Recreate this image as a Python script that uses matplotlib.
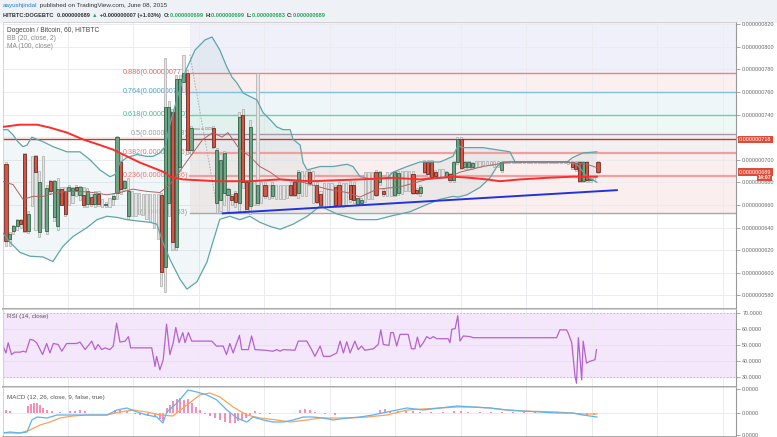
import numpy as np
import matplotlib.pyplot as plt
from matplotlib.patches import Rectangle

plt.rcParams['font.family'] = ['Liberation Sans', 'DejaVu Sans']

# hourly candles, price in 1e-9 BTC
opens = [696, 630, 637, 641, 647, 705, 637, 680, 703, 636,
         670, 637, 681, 649, 641, 674, 672, 672, 669, 676,
         669, 669, 661, 667, 661, 670, 661, 660, 661, 665,
         671, 698, 675, 650, 669, 669, 669, 669, 669, 669,
         669, 669, 669, 605, 662, 742, 623, 694, 769, 777,
         709, 728, 728, 728, 728, 728, 728, 662, 664, 671,
         669, 668, 671, 662, 740, 680, 659, 680, 662, 675,
         678, 672, 668, 672, 672, 672, 672, 678, 680, 671,
         680, 680, 689, 675, 678, 670, 668, 668, 668, 676,
         678, 668, 668, 678, 678, 661, 662, 675, 675, 675,
         689, 680, 672, 678, 678, 669, 671, 680, 680, 680,
         687, 673, 671, 698, 698, 698, 689, 689, 689, 686,
         687, 682, 698, 718, 694, 694, 694, 698, 698, 698,
         698, 698, 698, 698, 691, 698, 698, 698, 698, 698] + [698] * 10 + \
        [698, 698, 698, 698, 697, 698, 681, 698, 682, 684, 698]
highs = [698, 636, 642, 648, 648, 706, 655, 703, 704, 690,
         703, 678, 682, 682, 684, 676, 676, 678, 676, 678,
         677, 676, 675, 670, 672, 672, 665, 663, 666, 670,
         721, 705, 682, 684, 672, 671, 671, 670, 670, 670,
         670, 670, 671, 790, 752, 745, 775, 775, 793, 779,
         730, 728, 728, 728, 729, 729, 730, 710, 705, 708,
         675, 670, 672, 742, 745, 682, 735, 682, 777, 680,
         680, 678, 680, 678, 678, 678, 678, 680, 682, 691,
         690, 690, 691, 690, 680, 672, 679, 679, 679, 678,
         680, 679, 679, 681, 680, 666, 666, 689, 689, 689,
         691, 690, 674, 689, 689, 690, 690, 690, 690, 690,
         690, 675, 678, 700, 700, 700, 691, 692, 692, 690,
         688, 699, 720, 720, 699, 699, 698, 699, 699, 699,
         699, 699, 699, 699, 699, 699, 699, 699, 699, 699] + [699] * 10 + \
        [699, 699, 699, 699, 699, 699, 699, 699, 684, 686, 699]
lows = [624, 624, 634, 638, 640, 636, 635, 659, 638, 632,
        640, 634, 671, 646, 638, 660, 650, 660, 662, 668,
        664, 658, 658, 659, 658, 659, 658, 658, 658, 660,
        665, 670, 673, 648, 650, 650, 652, 651, 648, 645,
        640, 630, 588, 583, 650, 620, 620, 690, 760, 705,
        705, 727, 727, 727, 727, 727, 710, 653, 655, 660,
        655, 660, 658, 655, 675, 655, 652, 660, 660, 662,
        666, 665, 666, 665, 665, 665, 666, 668, 668, 666,
        668, 668, 678, 662, 662, 659, 658, 658, 658, 658,
        658, 658, 660, 663, 662, 660, 660, 663, 665, 665,
        668, 678, 668, 668, 668, 668, 669, 670, 672, 672,
        670, 670, 668, 688, 685, 684, 685, 684, 684, 684,
        680, 680, 696, 692, 692, 692, 692, 694, 694, 695,
        695, 695, 694, 694, 689, 697, 697, 697, 697, 697] + [697] * 10 + \
       [697, 697, 696, 692, 690, 680, 680, 680, 680, 682, 688]
closes = [628, 634, 641, 647, 643, 637, 652, 680, 689, 680,
          670, 675, 672, 681, 674, 660, 652, 676, 675, 673,
          676, 660, 672, 661, 670, 661, 661, 661, 661, 668,
          720, 674, 681, 672, 669, 669, 669, 669, 669, 669,
          669, 669, 601, 747, 747, 627, 771, 771, 777, 709,
          728, 728, 728, 728, 728, 728, 711, 709, 700, 706,
          674, 664, 663, 738, 680, 656, 729, 680, 678, 675,
          668, 672, 678, 672, 672, 672, 672, 669, 669, 689,
          680, 680, 679, 675, 663, 660, 668, 668, 668, 660,
          659, 668, 668, 665, 664, 666, 664, 675, 675, 675,
          669, 689, 670, 678, 678, 689, 688, 680, 680, 680,
          671, 671, 676, 689, 687, 685, 686, 689, 689, 689,
          682, 698, 718, 693, 698, 698, 697, 698, 698, 698,
          698, 698, 698, 698, 698, 698, 698, 698, 698, 698] + [698] * 10 + \
         [698, 698, 698, 694, 692, 681, 698, 682, 683, 684, 689]

# Bollinger bands (20, close, 2) and MA(100), sampled along the bar index
bb_upper_t = [-1, 0.5, 1.9, 3.2, 4.6, 5.7, 7.0, 8.4, 10, 12.7, 16.5, 20, 22.7, 25.4, 28.1, 29.5,
              30.8, 32.7, 35.4, 38.1, 39.7, 41.6, 43, 44.3, 46.5, 48.6, 51.1, 53.8, 55.7, 57.8,
              59.7, 61.1, 62.4, 64.1, 65.9, 67.8, 69.5, 71.4, 73.2, 74.9, 76.8, 77.6, 79.5, 80.3,
              81.4, 84.9, 88.4, 92.2, 93.8, 95.7, 99.2, 103, 104.6, 108.4, 111.9, 117.3, 120.8,
              122.2, 123.2, 128.9, 136.2, 137.6, 151.6, 153.2, 155.9, 159.7]
bb_upper = [726.6, 726.6, 722, 716, 711.6, 713, 720, 718, 716, 711.6, 707, 707, 700, 691, 685, 687,
            697.5, 702, 704.6, 703, 703, 706, 711.6, 731, 757, 779, 797, 806, 808.5, 797,
            782, 773, 768, 759, 756, 753, 741.6, 735.4, 729, 726.6, 726.6, 718, 713, 697.5,
            691, 694, 694, 696, 694, 685, 682.6, 684, 689, 694, 698, 698, 703,
            713, 710.7, 710.7, 707, 698, 698, 702, 706, 707]
bb_lower_t = [-1, 1.1, 3.8, 6.5, 10, 12.7, 15.4, 18.1, 21.9, 24.6, 27.3, 30, 32.7, 36.2, 38.9,
              40.8, 42.4, 44.3, 47, 48.9, 51.6, 54.3, 55.9, 57.8, 60.5, 63.2, 65.9, 68.6, 71.4,
              74.1, 77.6, 81.4, 84.9, 89.5, 94.9, 100.3, 103.8, 109.2, 113.8, 117.3, 120.8,
              122.2, 124.6, 128.1, 130.8, 132.7, 134.3, 151.6, 154.3, 157, 159.7]
bb_lower = [636, 627, 618, 614.7, 614, 610, 623.5, 632, 640, 647, 650, 649, 647, 645.6, 644.7,
            643, 627, 612, 594.5, 585.6, 592, 609.4, 627, 647.3, 650, 647, 650, 644.7, 641,
            638.5, 643, 650, 659, 652, 647, 647, 650, 654, 660.5, 665, 667.6,
            667, 669, 675.5, 684, 694, 698, 698, 696, 685, 680]
bb_basis_t = [-1, 1.9, 4.6, 7.3, 10, 13.8, 16.5, 20, 23.5, 27.3, 30.8, 34.3, 38.1, 41.6, 44.3,
              47, 49.2, 53.2, 55.9, 58.4, 60, 63.2, 65.9, 68.6, 71.4, 74.1, 80.3, 86.8, 92.2,
              95.7, 100.3, 106.5, 113.8, 120, 122.7, 128.9, 136.2, 151.6, 157, 159.7]
bb_basis = [681, 678, 665, 667.6, 667.6, 671, 672, 672, 671, 669, 671, 674, 672, 671, 678,
            690, 700, 718, 724, 720, 724, 709, 703, 694, 689, 682.6, 680, 674, 671,
            667, 674, 676, 682.6, 685, 689, 694, 698, 698, 696, 693]
ma_t = [-1, 3.8, 8.4, 11.9, 16.5, 20.8, 25.4, 28.9, 32.7, 36.2, 39.7, 43, 44.3, 47.8, 57,
        65.9, 74.1, 82.2, 95.7, 104.6, 111.9, 120.8, 125.4, 130, 133.5, 138.9, 146.2, 153.2, 159.7]
ma100 = [729, 731, 731, 728.4, 724, 718, 713, 709, 703, 697.5, 693, 688.7, 685, 682.6, 681,
         681, 682.6, 681, 682.6, 684, 682.6, 685, 684, 682.6, 681, 682.6, 684, 685, 685]

# fibonacci retracement drawing
fib_names = ['0', '0.236', '0.382', '0.5', '0.618', '0.764', '0.886']
fib_prices = [653, 686, 706, 723, 740, 760, 777]
fib_from = (49.7, 793)
fib_to = (57.3, 653)
hline_price = 718
trend_t = [58.6, 165.1]
trend_p = [652.6, 673.1]
last_price = 689

# RSI (14, close)
rsi_t = [-1, 0, 0.6, 1.5, 2.4, 3.8, 4.7, 5.4, 6.5, 7.4,
         8.3, 9.9, 11, 11.9, 12.8, 14.1, 15.1, 16.4, 19.1, 20,
         21.4, 23.2, 24.1, 24.9, 25.9, 26.8, 28.1, 29, 29.9, 30.8,
         32.2, 33.1, 33.7, 35.3, 39.4, 40.3, 40.7, 41.6, 42.5, 43.4,
         44.3, 45.2, 45.9, 46.8, 47.8, 48.4, 49.3, 50.2, 55.6, 56.9,
         58.7, 59.6, 60.5, 61.4, 63.1, 63.7, 65.5, 66.4, 67.3, 70,
         72.2, 73.2, 74.1, 74.9, 78.1, 79, 81.3, 82.6, 83.5, 84.9,
         85.8, 87.6, 89.4, 90.3, 91.2, 92.1, 93, 94.3, 95.2, 96.1,
         97, 99.3, 100.6, 101.3, 102, 103.5, 104, 104.7, 105.6, 106.5,
         108.7, 109.6, 110.5, 111.2, 111.9, 112.8, 113.7, 114.6, 115.5, 116.4,
         119.5, 120, 120.5, 121.4, 122.1, 122.7, 123.6, 125.4, 126.3, 148.8,
         149.7, 151.5, 151.9, 152.9, 153.8, 154.2, 154.7, 155.6, 156, 156.9,
         157.8, 159.2, 159.6]
rsi = [50.4, 45.1, 51.5, 44.1, 45.6, 45.6, 46.2, 45.6, 53.6, 53.1,
       51.5, 44.1, 51.0, 45.1, 51.0, 50.4, 46.2, 51.0, 51.0, 51.9,
       47.2, 52.5, 47.2, 50.4, 47.2, 48.3, 47.2, 49.4, 63.7, 51.9,
       52.5, 55.3, 48.3, 48.3, 48.3, 36.7, 43.0, 34.6, 40.9, 63.1,
       44.1, 51.5, 61.0, 51.5, 57.8, 51.5, 57.8, 52.5, 52.5, 49.4,
       49.4, 44.1, 51.0, 45.1, 56.1, 47.2, 47.2, 55.7, 47.2, 46.8,
       46.2, 47.2, 46.2, 47.2, 46.8, 52.5, 52.5, 47.2, 43.0, 49.4,
       43.0, 43.0, 45.1, 52.5, 45.1, 52.1, 45.1, 52.5, 47.2, 49.4,
       46.8, 47.7, 50.4, 59.5, 50.4, 49.8, 57.8, 57.8, 49.4, 56.7,
       56.7, 47.7, 47.7, 55.0, 48.7, 51.5, 55.3, 54.0, 55.3, 54.0,
       54.0, 51.5, 59.9, 60.3, 68.3, 52.5, 55.7, 55.3, 54.6, 54.6,
       59.5, 59.5, 57.8, 51.5, 30.4, 26.2, 54.6, 28.3, 52.5, 38.8,
       39.9, 40.9, 47.2]

# MACD (12, 26, close, 9), in 1e-11 BTC
macd_t = [-1, 1.1, 3.8, 5.7, 7, 8.4, 11.1, 13.8, 16.5, 21.9,
          27.3, 30, 32.7, 35.4, 38.1, 40.8, 42.4, 43.5, 46.2, 47.6,
          49.2, 51.6, 54.3, 57, 59.7, 62.4, 65.1, 66.8, 69.5, 72.2,
          74.9, 77.6, 80.3, 83, 85.7, 88.4, 92.2, 95.7, 99.2, 103,
          108.4, 112.7, 117.3, 121.9, 126.2, 130.8, 135.4, 139.7, 144.3, 148.9,
          153.2, 155.9, 159.7]
macd = [-20, -19, -20, -19, -7, -4, -5, -2, -2, -2,
        -2, 3, 5, 1, -2, -4, -10, 1, 10, 16,
        23, 21, 18, 13, 3, -5, -9, -4, -7, -9,
        -9, -7, -4, -4, -5, -7, -5, -4, -2, 1,
        5, 3, 5, 7, 6, 5, 3, 2, 1, 0,
        0, -2, -4]
signal_t = [-1, 3.8, 6.5, 9.2, 11.9, 14.6, 18.1, 21.9, 27.3, 30.8,
            34.3, 38.1, 41.6, 45.1, 48.9, 52.4, 55.1, 57.8, 61.4, 65.1,
            68.6, 73.2, 76.8, 81.4, 84.9, 88.4, 93, 97.6, 103, 108.4,
            112.7, 117.3, 121.9, 126.2, 130.8, 135.4, 139.7, 148.9, 155.9, 159.7]
signal = [-20, -20, -17, -12, -9, -5, -3, -2, -2, 1,
          3, 1, -2, -3, 8, 18, 20, 16, 6, -2,
          -5, -7, -9, -7, -5, -5, -5, -4, -2, 3,
          4, 5, 6, 6, 5, 3, 2, 1, -1, -1]
hist_t = [-0.8, 0, 1.1, 2.2, 5.9, 6.8, 7.6, 8.4, 9.2, 10,
          11.1, 12.4, 14.6, 17.3, 18.6, 20, 21.4, 25.4, 29.5, 30.8,
          32.7, 34.9, 36.2, 38.4, 40.3, 41.6, 42.4, 43.5, 44.3, 45.1,
          46.2, 47, 48.1, 49.2, 50.3, 51.4, 52.4, 53.8, 55.1, 56.5,
          57.8, 59.2, 60.5, 61.9, 62.7, 63.8, 64.9, 65.9, 67.3, 68.6,
          71.4, 74.1, 79.5, 80.8, 82.2, 83.5, 86.2, 88.9, 93, 101.1,
          102.4, 103.8, 106, 108, 110, 112, 115, 118, 121, 123,
          125, 128, 131, 134, 137, 140, 143, 146, 149, 152,
          155, 157, 159]
hist = [2, 3, 2, 0, 7, 9, 10, 10, 8, 5,
        3, 2, 1, 2, 2, 3, 2, 0, 3, 3,
        2, -1, -2, -3, -4, -6, -8, 5, 8, 12,
        14, 15, 13, 14, 10, 6, 3, -1, -3, -5,
        -7, -9, -10, -10, -8, -7, -5, -2, 2, -1,
        -1, 0, 3, 4, 3, 1, -1, -2, 0, 3,
        4, 2, 2, 2, 2, 1, 1, 1, 2, 2,
        1, 1, 1, 1, 1, 1, 1, 1, 1, 0,
        -1, -2, -2]

W, H = 777, 437
fig = plt.figure(figsize=(W / 100, H / 100), dpi=100)
fig.patch.set_facecolor('white')
fig.add_artist(Rectangle((0, 1 - 22 / H), 1, 22 / H, transform=fig.transFigure,
                         color='#eef1f5', zorder=0))


def px_axes(x0, y0, x1, y1):
    return fig.add_axes([x0 / W, 1 - y1 / H, (x1 - x0) / W, (y1 - y0) / H])


XL = (-0.8, 197.3)
grid_x = np.arange(16.7, 197, 17.7)
ax = px_axes(3, 22, 736, 309)
ax2 = px_axes(3, 309, 736, 387)
ax3 = px_axes(3, 387, 736, 437)

for a in (ax, ax2, ax3):
    a.set_xlim(*XL)
    a.set_xticks([])
    a.set_facecolor('white')
    a.yaxis.tick_right()
    a.tick_params(axis='y', direction='out', length=3, width=0.6, color='#999999',
                  labelsize=3.9, labelcolor='#666666', pad=1.5)
    for s in ('left', 'top'):
        a.spines[s].set_color('#cccccc')
        a.spines[s].set_linewidth(0.6)
    a.spines['right'].set_color('#999999')
    a.spines['right'].set_linewidth(0.8)
    a.spines['bottom'].set_color('#999999')
    a.spines['bottom'].set_linewidth(1.2)
    for gx in grid_x:
        a.axvline(gx, color='#ececf0', lw=0.7, zorder=0.3)

# ---- price pane
ax.set_ylim(568, 821.8)
yt = np.arange(580, 821, 20)
ax.set_yticks(yt)
# the 720 label sits under the red 718 price box, as on the original
ax.set_yticklabels(['' if v == 720 else '%.9f' % (v * 1e-9) for v in yt])
for v in yt:
    ax.axhline(v, color='#ececf0', lw=0.7, zorder=0.3)

fib_fill = ['#fbeeee', '#fbeeee', '#f3f0f2', '#eef8f4', '#eef6fa', '#fcefef']
fib_line = ['#a8a8a8', '#f0a0a0', '#f0a0a0', '#a898a8', '#70d0a8', '#80c0e6', '#f08080']
fib_txt = ['#999999', '#f07070', '#f07070', '#999999', '#40c090', '#4aa0d8', '#f06060']
x0f = fib_from[0]
for k in range(len(fib_prices) - 1):
    ax.fill_between([x0f, XL[1]], fib_prices[k], fib_prices[k + 1], color=fib_fill[k],
                    lw=0, zorder=0.2)
ax.fill_between([x0f, XL[1]], fib_prices[-1], 821.8, color='#f0f0fa', lw=0, zorder=0.2)
for k, (nm, p) in enumerate(zip(fib_names, fib_prices)):
    ax.plot([x0f, XL[1]], [p, p], color=fib_line[k],
            lw=1.6 if k in (1, 2) else 1.0, zorder=1)
    ax.text(x0f - 0.5, p, '%s(%.9f)' % (nm, p * 1e-9), ha='right', va='center',
            fontsize=5.2, color=fib_txt[k], zorder=1.5)
ax.plot([fib_from[0], fib_to[0]], [fib_from[1], fib_to[1]], color='#aaaaaa', lw=0.7,
        ls=(0, (1.5, 1.5)), zorder=1)
ax.axhline(hline_price, color='#c0392b', lw=1.0, zorder=1.2)

# bollinger band fill
ax.fill(np.concatenate([bb_upper_t, bb_lower_t[::-1]]),
        np.concatenate([bb_upper, bb_lower[::-1]]),
        color='#3d9aa0', alpha=0.07, lw=0, zorder=0.5)

# candles
for i in range(len(opens)):
    o, h, l, c = opens[i], highs[i], lows[i], closes[i]
    if c == o:
        ax.add_patch(Rectangle((i - 0.3, l), 0.6, max(h - l, 0.7), fc='#e4e4e4',
                               ec='#a4a4a4', lw=0.45, zorder=2))
        continue
    if c > o:
        fc, ec = '#6ba583', '#225437'
    else:
        fc, ec = '#d75442', '#5b1a13'
    ax.add_patch(Rectangle((i - 0.3, l), 0.6, h - l, fc='#e4e4e4', ec='#a4a4a4',
                           lw=0.45, zorder=2))
    ax.add_patch(Rectangle((i - 0.42, min(o, c)), 0.84, max(abs(c - o), 0.8), fc=fc,
                           ec=ec, lw=0.5, zorder=3))

ax.plot(bb_upper_t, bb_upper, color='#5ea5aa', lw=0.9, zorder=3.5)
ax.plot(bb_lower_t, bb_lower, color='#5ea5aa', lw=0.9, zorder=3.5)
ax.plot(bb_basis_t, bb_basis, color='#b06262', lw=0.7, zorder=3.5)
ax.plot(ma_t, ma100, color='#ff2b2b', lw=1.4, zorder=3.6)
ax.plot(trend_t, trend_p, color='#2233dd', lw=1.4, zorder=4)

ytr = ax.get_yaxis_transform()
box = dict(boxstyle='square,pad=0.25', fc='#dd4b39', ec='none')
ax.text(1.004, hline_price, '%.9f' % (hline_price * 1e-9), transform=ytr, fontsize=3.9,
        color='white', va='center', ha='left', bbox=box, zorder=6, clip_on=False)
ax.text(1.004, last_price, '%.9f' % (last_price * 1e-9), transform=ytr, fontsize=3.9,
        color='white', va='center', ha='left', bbox=box, zorder=6, clip_on=False)
ax.text(1.03, 684.4, '14:07', transform=ytr, fontsize=3.9, color='white', va='center',
        ha='left', bbox=dict(boxstyle='square,pad=0.12', fc='#dd4b39', ec='none'),
        zorder=6, clip_on=False, fontweight='bold')

# legend of price pane
fig.text(7 / W, 1 - 30.7 / H, 'Dogecoin / Bitcoin, 60, HITBTC', fontsize=4.8,
         color='#444444', va='center')
fig.text(7 / W, 1 - 39 / H, 'BB (20, close, 2)', fontsize=4.8, color='#888888', va='center')
fig.text(7 / W, 1 - 46.7 / H, 'MA (100, close)', fontsize=4.8, color='#888888', va='center')

# ---- RSI pane
ax2.set_ylim(23.9, 72.5)
ax2.axhspan(30, 70, color='#f4e7fc', zorder=0.1)
for v in (30, 70):
    ax2.axhline(v, color='#c2aed4', lw=0.6, ls=(0, (2, 2)), zorder=0.4)
for v in (40, 50, 60):
    ax2.axhline(v, color='#e8def2', lw=0.6, zorder=0.35)
ax2.set_yticks([30, 40, 50, 60, 70])
ax2.set_yticklabels(['%.4f' % v for v in [30, 40, 50, 60, 70]])
ax2.plot(rsi_t, rsi, color='#b462cd', lw=0.9, zorder=2)
ax2.text(0.0055, 0.9, 'RSI (14, close)', transform=ax2.transAxes,
         fontsize=4.5, color='#555555', va='center')

# ---- MACD pane
ax3.set_ylim(-24, 26)
ax3.set_yticks([24, 0, -22])
ax3.set_yticklabels(['0.0000'] * 3)
ax3.axhline(0, color='#ececf0', lw=0.7, zorder=0.3)
ax3.bar(hist_t, hist, width=0.55, color='#f48fb8', zorder=1)
ax3.plot(signal_t, signal, color='#f7a35c', lw=0.9, zorder=2)
ax3.plot(macd_t, macd, color='#5ab4f5', lw=0.9, zorder=2.1)
ax3.text(0.0055, 0.8, 'MACD (12, 26, close, 9, false, true)', transform=ax3.transAxes,
         fontsize=4.5, color='#555555', va='center')

# ---- header
fig.canvas.draw()
rend = fig.canvas.get_renderer()


def chain(parts, y, size, x=3):
    for txt, col, bold in parts:
        t = fig.text(x / W, 1 - y / H, txt, color=col, fontsize=size, va='center',
                     fontweight='bold' if bold else 'normal')
        bb = t.get_window_extent(renderer=rend)
        x += bb.width + 0.2


chain([('aayushjindal', '#2a7fd0', False),
       (' published on TradingView.com, June 08, 2015', '#333333', False)], 6, 4.5)
green = '#26a65b'
chain([('HITBTC:DOGEBTC  ', '#333333', True), ('0.000000689 ', '#333333', True),
       ('\u25b2', green, False), (' +0.000000007 (+1.03%)  ', '#333333', True),
       ('O:', '#333333', True), ('0.000000699 ', green, True),
       ('H:', '#333333', True), ('0.000000699 ', green, True),
       ('L:', '#333333', True), ('0.000000683 ', green, True),
       ('C:', '#333333', True), ('0.000000689', green, True)], 15.5, 4.1)

fig.savefig('out.png', dpi=100, facecolor=fig.get_facecolor())
